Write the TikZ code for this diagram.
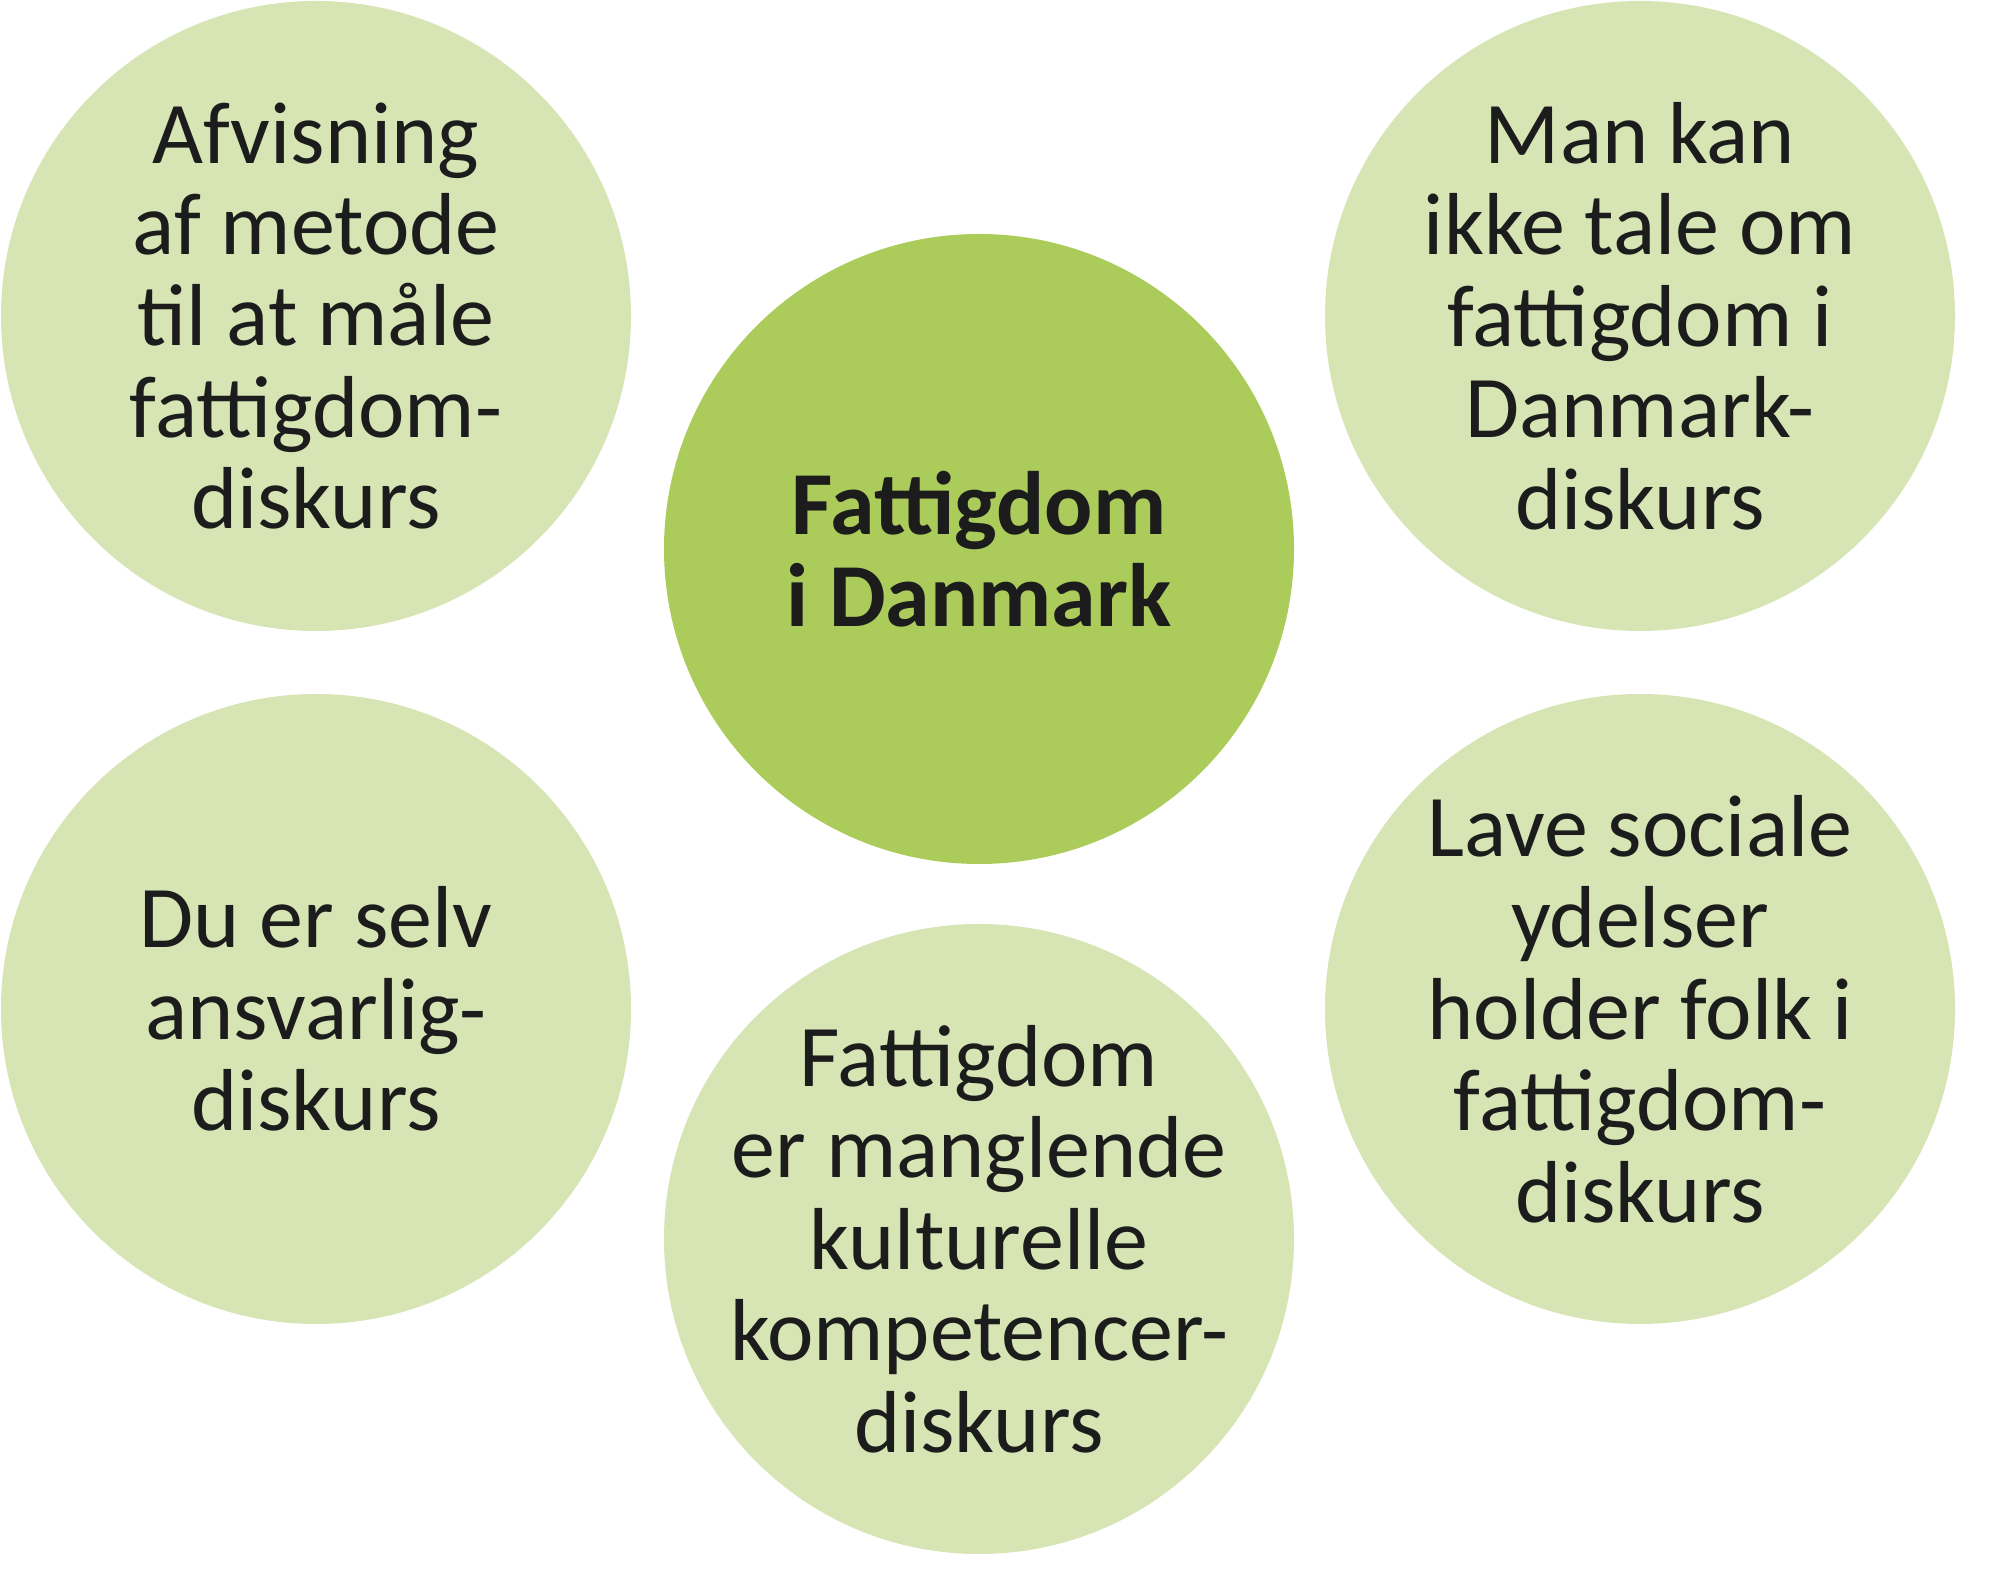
\documentclass[tikz,border=0pt]{standalone}
\usepackage{fontspec}
\setmainfont{Carlito}
\definecolor{palegreen}{HTML}{D7E4B4}
\definecolor{maingreen}{HTML}{ABCC5A}
\definecolor{inkgray}{HTML}{1C1C1C}
\begin{document}
\begin{tikzpicture}[
  bubble/.style={circle,draw=none,fill=palegreen,minimum size=315bp,inner sep=-30bp,
    align=center,text=inkgray,font=\fontsize{44bp}{45.7bp}\selectfont},
  hub/.style={bubble,fill=maingreen,font=\fontsize{45bp}{46bp}\selectfont\bfseries},
]
%%
\useasboundingbox (0bp,0bp) rectangle (1000bp,797.5bp);
\node (node_hub) at (489.5bp,523.0bp) [hub] {Fattigdom\\i Danmark};
  \node (node_method) at (158.0bp,639.5bp) [bubble] {Afvisning\\af metode\\til at måle\\fattigdom-\\diskurs};
  \node (node_taboo) at (820.0bp,639.5bp) [bubble] {Man kan\\ikke tale om\\fattigdom i\\Danmark-\\diskurs};
  \node (node_self) at (158.0bp,293.0bp) [bubble] {Du er selv\\ansvarlig-\\diskurs};
  \node (node_culture) at (489.5bp,178.0bp) [bubble] {Fattigdom\\er manglende\\kulturelle\\kompetencer-\\diskurs};
  \node (node_welfare) at (820.0bp,293.0bp) [bubble] {Lave sociale\\ydelser\\holder folk i\\fattigdom-\\diskurs};
%
\end{tikzpicture}
\end{document}
